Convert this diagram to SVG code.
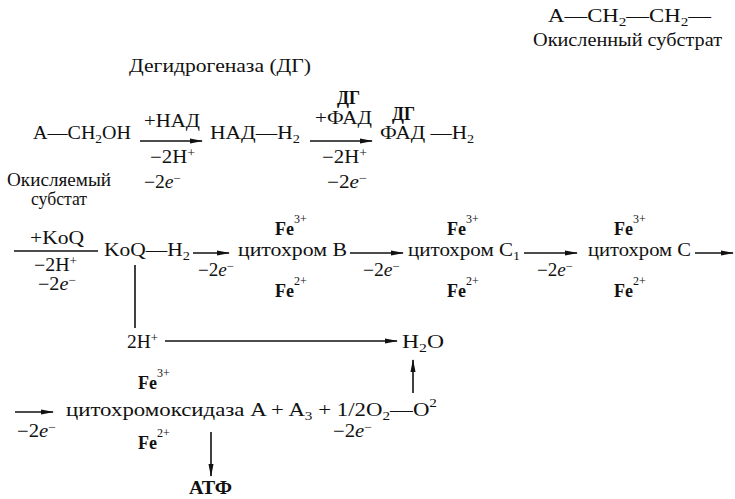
<svg xmlns="http://www.w3.org/2000/svg" width="735" height="499" viewBox="0 0 735 499">
<style>
text{font-family:"Liberation Serif","Times New Roman",serif;font-size:18px;fill:#111}
.b{font-weight:bold}
.s{font-size:12px}
.e{font-style:italic}
.ln{stroke:#111;stroke-width:1.6;fill:none}
.ar{stroke:#111;stroke-width:1.6;fill:none;marker-end:url(#ah)}
</style>
<defs>
<marker id="ah" markerWidth="13" markerHeight="6" refX="12" refY="3" orient="auto" markerUnits="userSpaceOnUse"><path d="M0,0.5 L13,3 L0,5.5 z" fill="#111"/></marker>
</defs>

<g id="substrate-oxidized">
<text x="548" y="22" textLength="163" lengthAdjust="spacingAndGlyphs">A—CH<tspan class="s" dy="4">2</tspan><tspan dy="-4">—CH</tspan><tspan class="s" dy="4">2</tspan><tspan dy="-4">—</tspan></text>
<text x="533" y="46" textLength="189" lengthAdjust="spacingAndGlyphs">Окисленный субстрат</text>
</g>
<g id="dehydrogenase">
<text x="129" y="72" textLength="182" lengthAdjust="spacingAndGlyphs">Дегидрогеназа (ДГ)</text>
</g>

<g id="substrate">
<text x="33" y="139" textLength="98" lengthAdjust="spacingAndGlyphs">A—CH<tspan class="s" dy="4">2</tspan><tspan dy="-4">OH</tspan></text>
<text x="7" y="186" textLength="104" lengthAdjust="spacingAndGlyphs">Окисляемый</text>
<text x="31" y="205" textLength="56" lengthAdjust="spacingAndGlyphs">субстат</text>
</g>
<g id="nad">
<text x="210" y="139" textLength="90" lengthAdjust="spacingAndGlyphs">НАД—H<tspan class="s" dy="4">2</tspan></text>
</g>
<g id="fad">
<text x="392" y="120" textLength="23" lengthAdjust="spacingAndGlyphs" class="b">ДГ</text>
<text x="380" y="139" textLength="94" lengthAdjust="spacingAndGlyphs">ФАД —H<tspan class="s" dy="4">2</tspan></text>
</g>
<g id="koq">
<text x="104" y="256" textLength="86" lengthAdjust="spacingAndGlyphs">KoQ—H<tspan class="s" dy="4">2</tspan></text>
</g>
<g id="cyt-b">
<text x="275" y="235" class="b">Fe<tspan class="s" font-weight="normal" dy="-12">3+</tspan></text>
<text x="238" y="256" textLength="109" lengthAdjust="spacingAndGlyphs">цитохром B</text>
<text x="275" y="297" class="b">Fe<tspan class="s" font-weight="normal" dy="-12">2+</tspan></text>
</g>
<g id="cyt-c1">
<text x="447" y="235" class="b">Fe<tspan class="s" font-weight="normal" dy="-12">3+</tspan></text>
<text x="408" y="256" textLength="112" lengthAdjust="spacingAndGlyphs">цитохром C<tspan class="s" dy="4">1</tspan></text>
<text x="447" y="297" class="b">Fe<tspan class="s" font-weight="normal" dy="-12">2+</tspan></text>
</g>
<g id="cyt-c">
<text x="614" y="235" class="b">Fe<tspan class="s" font-weight="normal" dy="-12">3+</tspan></text>
<text x="588" y="256" textLength="103" lengthAdjust="spacingAndGlyphs">цитохром C</text>
<text x="614" y="297" class="b">Fe<tspan class="s" font-weight="normal" dy="-12">2+</tspan></text>
</g>
<g id="protons">
<text x="127" y="348" textLength="31" lengthAdjust="spacingAndGlyphs">2H<tspan class="s" dy="-6">+</tspan></text>
</g>
<g id="water">
<text x="402" y="348" textLength="42" lengthAdjust="spacingAndGlyphs">H<tspan class="s" dy="4">2</tspan><tspan dy="-4">O</tspan></text>
</g>
<g id="cyt-oxidase">
<text x="138" y="389" class="b">Fe<tspan class="s" font-weight="normal" dy="-12">3+</tspan></text>
<text x="66" y="416" textLength="371" lengthAdjust="spacingAndGlyphs">цитохромоксидаза A + A<tspan class="s" dy="4">3</tspan><tspan dy="-4"> + 1/2O</tspan><tspan class="s" dy="4">2</tspan><tspan dy="-4">—O</tspan><tspan class="s" dy="-9">2</tspan></text>
<text x="138" y="449" class="b">Fe<tspan class="s" font-weight="normal" dy="-12">2+</tspan></text>
</g>
<g id="atp">
<text x="189" y="494" textLength="43" lengthAdjust="spacingAndGlyphs" class="b">АТФ</text>
</g>

<g id="connectors">
<line class="ar" x1="140" y1="141" x2="202" y2="141"/>
<line class="ar" x1="310" y1="141" x2="372" y2="141"/>
<line class="ln" x1="14" y1="251" x2="98" y2="251"/>
<line class="ar" x1="193" y1="253" x2="229" y2="253"/>
<line class="ar" x1="350" y1="253" x2="403" y2="253"/>
<line class="ar" x1="524" y1="253" x2="577" y2="253"/>
<line class="ar" x1="695" y1="253" x2="733" y2="253"/>
<line class="ln" x1="135" y1="265" x2="135" y2="328"/>
<line class="ar" x1="165" y1="341" x2="397" y2="341"/>
<line class="ar" x1="413" y1="393" x2="413" y2="360"/>
<line class="ar" x1="15" y1="412" x2="53" y2="412"/>
<line class="ar" x1="211" y1="432" x2="211" y2="476"/>
</g>

<g id="labels">
<text x="144" y="127" textLength="56" lengthAdjust="spacingAndGlyphs">+НАД</text>
<text x="150" y="163" textLength="45" lengthAdjust="spacingAndGlyphs">−2H<tspan class="s" dy="-6">+</tspan></text>
<text x="144" y="188" textLength="37" lengthAdjust="spacingAndGlyphs">−2<tspan class="e">e</tspan><tspan class="s" dy="-6">−</tspan></text>
<text x="337" y="104" textLength="23" lengthAdjust="spacingAndGlyphs" class="b">ДГ</text>
<text x="315" y="124" textLength="57" lengthAdjust="spacingAndGlyphs">+ФАД</text>
<text x="322" y="163" textLength="45" lengthAdjust="spacingAndGlyphs">−2H<tspan class="s" dy="-6">+</tspan></text>
<text x="327" y="188" textLength="40" lengthAdjust="spacingAndGlyphs">−2<tspan class="e">e</tspan><tspan class="s" dy="-6">−</tspan></text>
<text x="30" y="244" textLength="54" lengthAdjust="spacingAndGlyphs">+KoQ</text>
<text x="34" y="271" textLength="43" lengthAdjust="spacingAndGlyphs">−2H<tspan class="s" dy="-6">+</tspan></text>
<text x="38" y="290" textLength="38" lengthAdjust="spacingAndGlyphs">−2<tspan class="e">e</tspan><tspan class="s" dy="-6">−</tspan></text>
<text x="198" y="276" textLength="36" lengthAdjust="spacingAndGlyphs">−2<tspan class="e">e</tspan><tspan class="s" dy="-6">−</tspan></text>
<text x="363" y="276" textLength="37" lengthAdjust="spacingAndGlyphs">−2<tspan class="e">e</tspan><tspan class="s" dy="-6">−</tspan></text>
<text x="537" y="276" textLength="36" lengthAdjust="spacingAndGlyphs">−2<tspan class="e">e</tspan><tspan class="s" dy="-6">−</tspan></text>
<text x="17" y="437" textLength="39" lengthAdjust="spacingAndGlyphs">−2<tspan class="e">e</tspan><tspan class="s" dy="-6">−</tspan></text>
<text x="333" y="437" textLength="39" lengthAdjust="spacingAndGlyphs">−2<tspan class="e">e</tspan><tspan class="s" dy="-6">−</tspan></text>
</g>
</svg>
